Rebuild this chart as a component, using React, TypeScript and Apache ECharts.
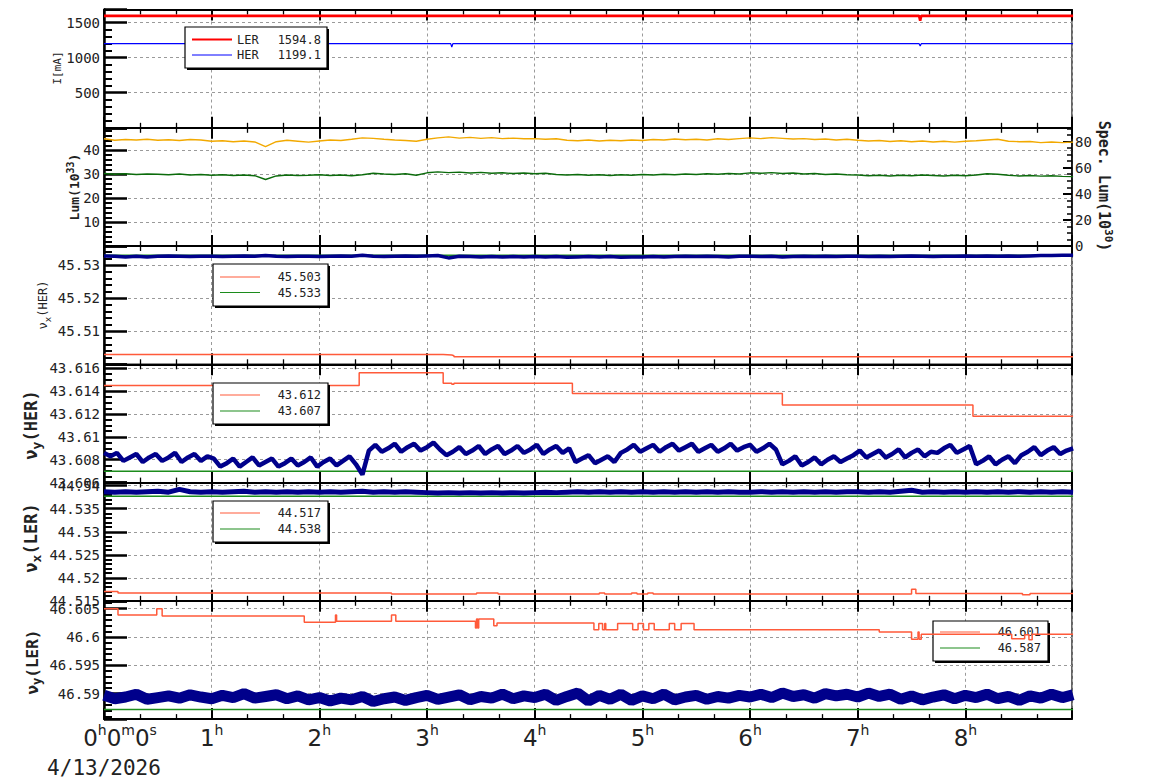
import React, { useEffect, useRef } from "react";
import * as echarts from "echarts";

// ---------------- data (time in hours since 0h0m0s, 4/13/2026) ----------------
const X_MAX = 8.99;

// Panel 1: beam currents I[mA]
const lerCurT = [0, 7.57, 7.58, 7.59, 9.0];
const lerCurV = [1595, 1595, 1525, 1594.8, 1594.8];
const herCurT = [0, 3.22, 3.23, 3.24, 7.57, 7.58, 7.59, 9.0];
const herCurV = [1199, 1199, 1150, 1199, 1199, 1166, 1199.1, 1199.1];

// Panel 2: luminosity, sampled every LUM_DT hours
const LUM_DT = 0.1;
const lumOrange = [
  44.8, 44.2, 44.5, 44.3, 44.6, 44.2, 44.4, 44.1, 44.5, 44.3,
  43.8, 44.0, 43.6, 43.9, 43.5, 41.5, 43.6, 44.2, 43.8, 43.4,
  43.9, 44.3, 44.1, 44.6, 45.2, 45.0, 44.6, 44.3, 44.1, 43.8,
  44.6, 45.2, 45.6, 45.1, 45.4, 45.0, 45.3, 44.9, 45.1, 44.8,
  44.9, 44.6, 44.8, 44.2, 44.0, 44.3, 43.9, 44.2, 44.0, 44.3,
  44.1, 44.5, 44.3, 44.7, 44.4, 44.6, 44.3, 44.8, 44.5, 44.9,
  45.2, 44.9, 45.3, 45.0, 44.7, 44.9, 44.5, 44.7, 44.3, 44.6,
  44.2, 43.9, 44.1, 43.7, 44.0, 43.6, 43.9, 43.5, 43.8, 43.4,
  43.8, 44.0, 44.3, 44.6, 43.8, 43.6, 43.7, 43.2, 43.5, 43.2, 43.4,
];
const lumGreen = [
  30.3, 30.0, 30.2, 29.9, 30.1, 30.0, 29.8, 30.1, 29.7, 29.9,
  29.6, 29.8, 29.5, 29.7, 29.4, 27.8, 29.3, 29.7, 29.5, 29.6,
  29.8, 29.5, 29.7, 29.4, 29.8, 30.4, 30.1, 29.9, 30.2, 29.6,
  30.6, 31.0, 30.7, 30.9, 30.5, 30.8, 30.4, 30.6, 30.3, 30.5,
  30.2, 30.4, 29.9, 29.7, 29.9, 29.6, 29.8, 29.5, 29.8, 29.6,
  29.9, 29.7, 30.0, 29.8, 30.1, 29.9, 30.2, 30.0, 30.3, 30.1,
  30.6, 30.4, 30.7, 30.3, 30.5, 30.1, 30.3, 29.9, 30.1, 29.8,
  29.7, 29.4, 29.6, 29.3, 29.6, 29.4, 29.7, 29.5, 29.3, 29.6,
  29.4, 29.7, 30.2, 30.0, 29.6, 29.3, 29.5, 29.2, 29.4, 29.1, 29.0,
];

// Panel 3: nu_x(HER)
const TUNE_DT = 0.1;
const nxHerSetT = [0, 3.15, 3.23, 3.25, 9.0];
const nxHerSetV = [45.503, 45.5028, 45.5026, 45.5023, 45.5023];
const nxHerRef = 45.533;
const nxHerMeas = [
  45.5328, 45.5327, 45.5325, 45.5327, 45.5325, 45.5327, 45.5328, 45.5327, 45.5326, 45.5327,
  45.5327, 45.5326, 45.5327, 45.5328, 45.5327, 45.5329, 45.5327, 45.5326, 45.5327, 45.5327,
  45.5326, 45.5327, 45.5328, 45.5327, 45.533, 45.5327, 45.5326, 45.5327, 45.5328, 45.5327,
  45.5328, 45.5329, 45.5322, 45.5327, 45.5326, 45.5325, 45.5326, 45.5325, 45.5326, 45.5325,
  45.5326, 45.5325, 45.5326, 45.5324, 45.5325, 45.5326, 45.5325, 45.5326, 45.5324, 45.5325,
  45.5325, 45.5326, 45.5325, 45.5326, 45.5327, 45.5326, 45.5327, 45.5326, 45.5325, 45.5327,
  45.5327, 45.5326, 45.5327, 45.5325, 45.5326, 45.5327, 45.5326, 45.5327, 45.5326, 45.5327,
  45.5327, 45.5326, 45.5327, 45.5326, 45.5327, 45.5328, 45.5327, 45.5326, 45.5327, 45.5327,
  45.5328, 45.5327, 45.5328, 45.5327, 45.5328, 45.5327, 45.5328, 45.5329, 45.5329, 45.533, 45.533,
];

// Panel 4: nu_y(HER)
const nyHerSetT = [0, 2.37, 3.15, 3.23, 3.25, 4.35, 6.3, 8.07, 9.0];
const nyHerSetV = [43.6145, 43.6156, 43.6147, 43.6146, 43.6147, 43.6138, 43.6128, 43.6118, 43.6118];
const nyHerRef = 43.607;
const SAW_DT = 0.06;
const nyHerMeas = [
  43.6086, 43.6083, 43.6086, 43.6079, 43.6082, 43.6085, 43.6078, 43.6082, 43.6085, 43.6079,
  43.6082, 43.6086, 43.6078, 43.6082, 43.6085, 43.6079, 43.6083,
  43.6081, 43.6074, 43.6077, 43.6081, 43.6074, 43.6078, 43.6082, 43.6075, 43.6078, 43.6081,
  43.6074, 43.6077, 43.6081, 43.6075, 43.6078, 43.6082, 43.6074, 43.6078, 43.6081, 43.6075,
  43.6079, 43.6083, 43.6076,
  43.6067, 43.6088, 43.6093, 43.6087, 43.609, 43.6094, 43.6087, 43.6091, 43.6094, 43.6088,
  43.6091, 43.6095, 43.6089,
  43.6084, 43.6087, 43.6091, 43.6085, 43.6088, 43.6092, 43.6085, 43.6089, 43.6092, 43.6085,
  43.6088, 43.6092, 43.6086, 43.6089, 43.6093, 43.6085, 43.6089, 43.6092, 43.6086, 43.609,
  43.6078, 43.6081, 43.6084, 43.6077, 43.608, 43.6083, 43.6078,
  43.6086, 43.6089, 43.6093, 43.6087, 43.609, 43.6093, 43.6087, 43.6091, 43.6094, 43.6088,
  43.6091, 43.6094, 43.6087, 43.609, 43.6093, 43.6087, 43.609, 43.6094, 43.6088, 43.6091,
  43.6093, 43.6087, 43.609, 43.6094, 43.6089,
  43.6076, 43.6079, 43.6083, 43.6075, 43.6078, 43.6082, 43.6076, 43.608, 43.6083, 43.6078,
  43.6081, 43.6084, 43.6088, 43.6082, 43.6085, 43.6088, 43.6082, 43.6085, 43.6089, 43.6082,
  43.6086, 43.6089, 43.6083, 43.6087,
  43.6086, 43.609, 43.6093, 43.6086, 43.6089, 43.6092,
  43.6076, 43.6079, 43.6083, 43.6076, 43.608, 43.6083, 43.6077,
  43.6084, 43.6087, 43.6091, 43.6084, 43.6088, 43.6091, 43.6085, 43.6088, 43.609,
];

// Panel 5: nu_x(LER)
const nxLerSetT = [0, 0.13, 2.67, 3.46, 3.66, 4.6, 4.65, 4.9, 4.95, 5.05, 5.1, 7.5, 7.54, 8.53, 8.6, 9.0];
const nxLerSetV = [44.517, 44.5167, 44.5165, 44.5167, 44.5165, 44.5167, 44.5165, 44.5167, 44.5165, 44.5167, 44.5165, 44.5175, 44.5166, 44.5163, 44.5166, 44.5166];
const nxLerRef = 44.5377;
const nxLerMeas = [
  44.5387, 44.5386, 44.5387, 44.5386, 44.5387, 44.5388, 44.5386, 44.5392, 44.5387, 44.5386,
  44.5387, 44.5386, 44.5387, 44.5388, 44.5386, 44.5387, 44.5386, 44.5387, 44.5386, 44.5387,
  44.5386, 44.5387, 44.5386, 44.5387, 44.5388, 44.5386, 44.5387, 44.5386, 44.5387, 44.5386,
  44.5385, 44.5384, 44.5385, 44.5384, 44.5385, 44.5384, 44.5385, 44.5384, 44.5385, 44.5384,
  44.5385, 44.5386, 44.5385, 44.5386, 44.5387, 44.5386, 44.5387, 44.5386, 44.5387, 44.5386,
  44.5387, 44.5386, 44.5387, 44.5386, 44.5387, 44.5386, 44.5387, 44.5386, 44.5387, 44.5386,
  44.5386, 44.5387, 44.5386, 44.5387, 44.5386, 44.5387, 44.5386, 44.5387, 44.5386, 44.5387,
  44.5387, 44.5386, 44.5387, 44.5386, 44.5388, 44.539, 44.5386, 44.5387, 44.5386, 44.5387,
  44.5386, 44.5387, 44.5386, 44.5387, 44.5386, 44.5387, 44.5386, 44.5387, 44.5386, 44.5387, 44.5386,
];

// Panel 6: nu_y(LER)
const nyLerSetT = [
  0, 0.13, 0.49, 0.54, 1.86, 2.15, 2.16, 2.67, 2.71, 3.45, 3.46, 3.47, 3.48, 3.62, 3.65,
  4.55, 4.595, 4.63, 4.65, 4.66, 4.77, 4.91, 4.96, 5.01, 5.06, 5.11, 5.25, 5.3, 5.36, 5.48,
  7.2, 7.5, 7.56, 7.57, 7.59, 8.43, 8.55, 8.59, 8.62, 9.0,
];
const nyLerSetV = [
  46.605, 46.6039, 46.605, 46.6037, 46.6026, 46.6039, 46.6028, 46.6039, 46.6028, 46.6016, 46.6032, 46.6016, 46.6032, 46.602, 46.6025,
  46.6013, 46.6024, 46.6013, 46.6024, 46.6013, 46.6024, 46.6013, 46.6024, 46.6013, 46.6024, 46.6013, 46.6024, 46.6013, 46.6024, 46.6013,
  46.6009, 46.5996, 46.6009, 46.5996, 46.6005, 46.5997, 46.6004, 46.5995, 46.6005, 46.6005,
];
const nyLerRef = 46.5872;
const nyLerMeas = [
  46.5897, 46.5891, 46.5894, 46.5899, 46.589, 46.5893, 46.5896, 46.5892, 46.5898, 46.5894,
  46.5891, 46.5897, 46.5893, 46.59, 46.5892, 46.5895, 46.5898, 46.5891, 46.5896, 46.5889,
  46.5893, 46.5887, 46.5892, 46.5889, 46.5895, 46.5886, 46.5891, 46.5894, 46.5888, 46.5893,
  46.5897, 46.589, 46.5894, 46.5898, 46.5889, 46.5895, 46.5892, 46.5899, 46.5891, 46.5896,
  46.5893, 46.5899, 46.5888, 46.5895, 46.5901, 46.5887, 46.5897, 46.589, 46.5899, 46.5888,
  46.5896, 46.5891, 46.5899, 46.5889, 46.5894, 46.5897, 46.589, 46.5895, 46.5892, 46.5897,
  46.5894, 46.5899, 46.5893, 46.5901, 46.5895, 46.5898, 46.5892, 46.59, 46.5896, 46.5899,
  46.5894, 46.5901, 46.5895, 46.5899, 46.589, 46.5896, 46.5889, 46.5894, 46.5898, 46.5891,
  46.5897, 46.5893, 46.5899, 46.5891, 46.5895, 46.5888, 46.5896, 46.5892, 46.5899, 46.5893, 46.5898,
];

// legend texts
const legendCur = [["LER", "1594.8"], ["HER", "1199.1"]];
const legendNxHer = ["45.503", "45.533"];
const legendNyHer = ["43.612", "43.607"];
const legendNxLer = ["44.517", "44.538"];
const legendNyLer = ["46.601", "46.587"];

// ---------------- styling / layout ----------------
const MONO = '"DejaVu Sans Mono", monospace';
const SANS = '"DejaVu Sans", sans-serif';
const LEFT = 104;
const PW = 968;
const TOPS = [9.5, 127.8, 246, 364.3, 482.5, 600.8];
const PH = 118.3;
const C_RED = "#ff0000";
const C_BLUE = "#0000ff";
const C_ORANGE = "#f2a900";
const C_DGREEN = "#0b6b0b";
const C_TOMATO = "#ff5a3a";
const C_GREEN = "#1c8c1c";
const C_NAVY = "#00008b";
const GRIDC = "#9a9a9a";

const pairs = (t: number[], v: number[]) => v.map((y, i) => [t[i], y]);
const sampled = (v: number[], dt: number) => v.map((y, i) => [i * dt, y]);
const flat = (v: number) => [[0, v], [9.0, v]];
const numFmt = (v: number) => String(parseFloat(v.toFixed(5)));

function makeXAxes(i: number) {
  const base = (pos: string) => ({
    type: "value",
    gridIndex: i,
    position: pos,
    min: 0,
    max: X_MAX,
    interval: 1,
    axisLine: { show: true, onZero: false, lineStyle: { color: "#000", width: 2 } },
    axisTick: { show: true, inside: true, length: 11, lineStyle: { color: "#000", width: 2 } },
    minorTick: { show: true, splitNumber: 3, length: 5, lineStyle: { color: "#000", width: 1.3 } },
    splitLine: { show: pos === "bottom", lineStyle: { color: GRIDC, type: [3, 3], width: 1 } },
    axisLabel: { show: false },
  });
  const bottom: any = base("bottom");
  if (i === 5) {
    bottom.axisLabel = {
      show: true,
      margin: 4,
      showMaxLabel: false,
      formatter: (v: number) =>
        v === 0
          ? "{sp| }{n|0}{s|h}{n|0}{s|m}{n|0}{s|s}\n{d|4/13/2026}"
          : `{n|${Math.round(v)}}{s|h}`,
      rich: {
        n: { fontFamily: SANS, fontSize: 23, lineHeight: 30, color: "#222" },
        s: { fontFamily: SANS, fontSize: 14, lineHeight: 6, verticalAlign: "top", color: "#222" },
        d: { fontFamily: MONO, fontSize: 21, lineHeight: 29, color: "#222" },
        sp: { width: 32, fontSize: 10 },
      },
    };
  }
  return [bottom, base("top")];
}

function makeYAxis(i: number, o: any) {
  return {
    type: "value",
    gridIndex: i,
    position: "left",
    min: o.min,
    max: o.max,
    interval: o.interval,
    splitNumber: o.splitNumber,
    axisLine: { show: true, onZero: false, lineStyle: { color: "#000", width: 2.5 } },
    axisTick: { show: true, inside: true, length: 23, lineStyle: { color: "#000", width: 2.5 } },
    minorTick: { show: true, splitNumber: o.minor, length: 8, lineStyle: { color: "#000", width: 2 } },
    splitLine: { show: true, lineStyle: { color: GRIDC, type: [3, 3], width: 1 } },
    axisLabel: {
      show: true,
      margin: 4,
      color: "#222",
      fontSize: 14,
      fontFamily: MONO,
      formatter: numFmt,
      showMinLabel: o.showMin,
      showMaxLabel: false,
    },
  };
}

function line(xi: number, yi: number, data: any[], color: string, width: number, extra: any = {}) {
  return {
    type: "line",
    xAxisIndex: xi,
    yAxisIndex: yi,
    data,
    showSymbol: false,
    symbol: "none",
    silent: true,
    animation: false,
    lineStyle: { color, width },
    itemStyle: { color },
    z: 2,
    ...extra,
  };
}

function legend(
  box: number[],
  lx1: number,
  lx2: number,
  textRight: number,
  rows: { y: number; color: string; w: number; value: string; label?: string; labelX?: number }[],
  z: number
) {
  const [x, y, w, h] = box;
  const els: any[] = [
    { type: "rect", z, shape: { x: x + 2, y: y + 2, width: w, height: h }, style: { fill: "#000" } },
    { type: "rect", z, shape: { x, y, width: w, height: h }, style: { fill: "#fff", stroke: "#000", lineWidth: 1.2 } },
  ];
  rows.forEach((r) => {
    els.push({ type: "line", z, shape: { x1: lx1, y1: r.y, x2: lx2, y2: r.y }, style: { stroke: r.color, lineWidth: r.w } });
    els.push({
      type: "text",
      z,
      x: textRight,
      y: r.y,
      style: { text: r.value, font: `12px ${MONO}`, fill: "#222", align: "right", verticalAlign: "middle" },
    });
    if (r.label) {
      els.push({
        type: "text",
        z,
        x: r.labelX,
        y: r.y,
        style: { text: r.label, font: `12px ${MONO}`, fill: "#222", align: "left", verticalAlign: "middle" },
      });
    }
  });
  return els;
}

function vName(x: number, y: number, rot: number, text: string, rich: any) {
  return {
    type: "text",
    z: 20,
    x,
    y,
    rotation: rot,
    style: { text, rich, fill: "#222", align: "center", verticalAlign: "middle" },
  };
}

function nuRich(size: number, bold: boolean) {
  const w = bold ? "bold" : "normal";
  return {
    n: { fontFamily: MONO, fontSize: size, fontWeight: w, fill: "#222", lineHeight: size + 6 },
    b: { fontFamily: MONO, fontSize: Math.round(size * 0.75), fontWeight: w, fill: "#222", lineHeight: 4, verticalAlign: "bottom" },
  };
}

function buildOption() {
  const grids = TOPS.map((t) => ({ left: LEFT, top: t, width: PW, height: PH, show: true, borderColor: "#000", borderWidth: 1.2, backgroundColor: "transparent" }));
  const xAxisList: any[] = [];
  for (let i = 0; i < 6; i++) xAxisList.push(...makeXAxes(i));
  const yAxisList: any[] = [
    makeYAxis(0, { min: 0, max: 1686, interval: 500, minor: 5, showMin: false }),
    makeYAxis(1, { min: 0, max: 49.4, interval: 10, minor: 5, showMin: false }),
    makeYAxis(2, { min: 45.5, max: 45.5358, interval: 0.01, minor: 5, showMin: false }),
    makeYAxis(3, { min: 43.606, max: 43.61635, interval: 0.002, minor: 4, showMin: true }),
    makeYAxis(4, { min: 44.515, max: 44.5407, interval: 0.005, minor: 5, showMin: true }),
    makeYAxis(5, { min: 46.5855, max: 46.6064, splitNumber: 4, minor: 5, showMin: false }),
    {
      type: "value",
      gridIndex: 1,
      position: "right",
      min: 0,
      max: 90.5,
      interval: 20,
      axisLine: { show: true, onZero: false, lineStyle: { color: "#000", width: 1.5 } },
      axisTick: { show: true, inside: true, length: 9, lineStyle: { color: "#000", width: 2 } },
      minorTick: { show: true, splitNumber: 4, length: 5, lineStyle: { color: "#000", width: 1.5 } },
      splitLine: { show: false },
      axisLabel: { show: true, margin: 3, color: "#222", fontSize: 14, fontFamily: MONO, formatter: numFmt, showMaxLabel: false, showMinLabel: true },
    },
  ];

  const series: any[] = [
    line(0, 0, pairs(herCurT, herCurV), C_BLUE, 1.2),
    line(0, 0, pairs(lerCurT, lerCurV), C_RED, 2.6),
    line(2, 1, sampled(lumOrange, LUM_DT), C_ORANGE, 1.4),
    line(2, 1, sampled(lumGreen, LUM_DT), C_DGREEN, 1.4),
    line(4, 2, flat(nxHerRef), C_GREEN, 1.5),
    line(4, 2, sampled(nxHerMeas, TUNE_DT), C_NAVY, 3.5),
    line(4, 2, pairs(nxHerSetT, nxHerSetV), C_TOMATO, 1.5, { step: "end" }),
    line(6, 3, flat(nyHerRef), C_GREEN, 1.5),
    line(6, 3, sampled(nyHerMeas, SAW_DT), C_NAVY, 4.5),
    line(6, 3, pairs(nyHerSetT, nyHerSetV), C_TOMATO, 1.5, { step: "end" }),
    line(8, 4, flat(nxLerRef), C_GREEN, 1.5),
    line(8, 4, sampled(nxLerMeas, TUNE_DT), C_NAVY, 5),
    line(8, 4, pairs(nxLerSetT, nxLerSetV), C_TOMATO, 1.5, { step: "end" }),
    line(10, 5, flat(nyLerRef), C_GREEN, 1.5),
    line(10, 5, sampled(nyLerMeas, TUNE_DT), C_NAVY, 11),
    line(10, 5, pairs(nyLerSetT, nyLerSetV), C_TOMATO, 1.5, { step: "end" }),
  ];

  const graphics: any[] = [
    ...legend([185, 27, 142, 41], 192, 232, 321, [
      { y: 39.5, color: C_RED, w: 2, value: legendCur[0][1], label: legendCur[0][0], labelX: 237 },
      { y: 55, color: C_BLUE, w: 1, value: legendCur[1][1], label: legendCur[1][0], labelX: 237 },
    ], 10),
    ...legend([213, 264, 115, 42], 220, 260, 321, [
      { y: 277, color: C_TOMATO, w: 1.2, value: legendNxHer[0] },
      { y: 292.5, color: C_GREEN, w: 1.2, value: legendNxHer[1] },
    ], 10),
    ...legend([213, 383, 115, 41], 220, 260, 321, [
      { y: 395, color: C_TOMATO, w: 1.2, value: legendNyHer[0] },
      { y: 411, color: C_GREEN, w: 1.2, value: legendNyHer[1] },
    ], 10),
    ...legend([213, 501, 115, 41], 220, 260, 321, [
      { y: 513, color: C_TOMATO, w: 1.2, value: legendNxLer[0] },
      { y: 529, color: C_GREEN, w: 1.2, value: legendNxLer[1] },
    ], 10),
    ...legend([933, 621, 115, 40], 940, 980, 1041, [
      { y: 632, color: C_TOMATO, w: 1.2, value: legendNyLer[0] },
      { y: 648, color: C_GREEN, w: 1.2, value: legendNyLer[1] },
    ], 1),
    vName(57, 68, Math.PI / 2, "{n|I[mA]}", { n: { fontFamily: MONO, fontSize: 11, fill: "#222" } }),
    vName(74, 187, Math.PI / 2, "{n|Lum(10}{s|33}{n|)}", {
      n: { fontFamily: MONO, fontSize: 13, fontWeight: "bold", fill: "#222", lineHeight: 18 },
      s: { fontFamily: MONO, fontSize: 10, fontWeight: "bold", fill: "#222", lineHeight: 6, verticalAlign: "top" },
    }),
    vName(43, 305, Math.PI / 2, "{n|ν}{b|x}{n|(HER)}", nuRich(12, false)),
    vName(31, 425, Math.PI / 2, "{n|ν}{b|y}{n|(HER)}", nuRich(17, true)),
    vName(31, 538, Math.PI / 2, "{n|ν}{b|x}{n|(LER)}", nuRich(17, true)),
    vName(32, 662, Math.PI / 2, "{n|ν}{b|y}{n|(LER)}", nuRich(16, true)),
    vName(1104, 186, -Math.PI / 2, "{n|Spec. Lum(10}{s|30}{n|)}", {
      n: { fontFamily: MONO, fontSize: 15, fontWeight: "bold", fill: "#222", lineHeight: 20 },
      s: { fontFamily: MONO, fontSize: 11, fontWeight: "bold", fill: "#222", lineHeight: 6, verticalAlign: "top" },
    }),
  ];

  return {
    animation: false,
    backgroundColor: "#ffffff",
    grid: grids,
    xAxis: xAxisList,
    yAxis: yAxisList,
    series,
    graphic: { elements: graphics },
  };
}

export default function App() {
  const ref = useRef<HTMLDivElement>(null);
  useEffect(() => {
    document.body.style.margin = "0";
    const chart = echarts.init(ref.current as HTMLDivElement, null, { renderer: "svg", width: 1154, height: 782 });
    chart.setOption(buildOption() as any);
    return () => chart.dispose();
  }, []);
  return <div ref={ref} style={{ width: 1154, height: 782 }} />;
}
